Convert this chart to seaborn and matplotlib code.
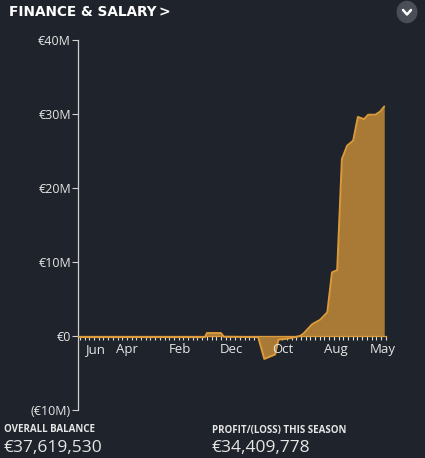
import numpy as np
import pandas as pd
import seaborn as sns
import matplotlib.pyplot as plt
from matplotlib.patches import Circle
from matplotlib.lines import Line2D


# balance over the season (week index, millions of euros)
weeks = [0, 26.6, 27.0, 30.0, 30.6, 37.9, 39.2, 41.5, 42.2, 44.7, 46.8, 47.5,
         49.4, 51.1, 52.6, 53.6, 54.7, 55.7, 56.8, 58.1, 59.1, 60.4, 61.3,
         62.8, 63.8, 64.7]
balance = [-0.15, -0.15, 0.4, 0.4, -0.1, -0.15, -3.1, -2.5, -0.5, -0.3, 0.0, 0.3,
           1.6, 2.2, 3.2, 8.6, 8.9, 23.9, 25.7, 26.4, 29.6, 29.3, 29.9,
           29.9, 30.3, 31.0]
month_labels = ['Jun', 'Apr', 'Feb', 'Dec', 'Oct', 'Aug', 'May']
month_pos = [3.2, 10.0, 21.3, 32.3, 43.2, 54.5, 64.3]
y_ticks = [-10, 0, 10, 20, 30, 40]
y_labels = ['(€10M)', '€0', '€10M', '€20M', '€30M', '€40M']

df = pd.DataFrame({'week': weeks, 'balance': balance})

bg = '#1f232b'
line_col = '#dc9b3b'
fill_col = '#a87a36'
txt = '#e6e6e6'

sns.set_style('dark')
plt.rcParams['font.family'] = ['Open Sans', 'DejaVu Sans']

fig = plt.figure(figsize=(4.25, 4.58), dpi=100, facecolor=bg)
ax = fig.add_axes([0.1835, 0.1048, 0.725, 0.808])
ax.set_facecolor(bg)

ax.fill_between(df['week'], df['balance'], 0, color=fill_col, lw=0)
sns.lineplot(data=df, x='week', y='balance', ax=ax, color=line_col, lw=1.4)

ax.set_xlim(-0.4, 65.1)
ax.set_ylim(-10, 40)
ax.set_xlabel('')
ax.set_ylabel('')

ax.set_yticks(y_ticks)
ax.set_yticklabels(y_labels, color=txt, fontsize=9)
ax.tick_params(axis='y', length=4, width=0.8, color='#cfcfcf', pad=1, left=True)

# week ticks along the zero line, month names under them
ax.set_xticks(np.arange(0, 66))
ax.set_xticklabels([])
ax.tick_params(axis='x', length=3, width=0.8, color='#dcdcdc', bottom=True)
for name, pos in zip(month_labels, month_pos):
    ax.annotate(name, (pos, 0), xytext=(0, -5), textcoords='offset points',
                ha='center', va='top', color=txt, fontsize=9.5)

for s in ['top', 'right']:
    ax.spines[s].set_visible(False)
ax.spines['left'].set_color('#cfcfcf')
ax.spines['left'].set_linewidth(0.9)
ax.spines['bottom'].set_position(('data', 0))
ax.spines['bottom'].set_color(line_col)
ax.spines['bottom'].set_linewidth(0.9)
ax.grid(False)

# header
fig.text(9 / 425, 1 - 12 / 458, 'FINANCE & SALARY', color='white', fontsize=9.8,
         fontweight='bold', va='center', ha='left', family='DejaVu Sans')
fig.text(158 / 425, 1 - 12 / 458, '>', color='white', fontsize=10,
         fontweight='bold', va='center', ha='left', family='DejaVu Sans')
cx, cy = 407 / 425, 1 - 12 / 458
fig.patches.append(Circle((cx, cy), 0.023, transform=fig.transFigure,
                          color='#4a4e56', zorder=1))
fig.lines.append(Line2D([cx - 4 / 425, cx, cx + 4 / 425],
                        [cy + 2 / 458, cy - 2.5 / 458, cy + 2 / 458],
                        transform=fig.transFigure, color='white', lw=1.8, zorder=2))

# footer
fig.text(4 / 425, 1 - 430 / 458, 'OVERALL BALANCE', color=txt, fontsize=7,
         fontweight='bold', va='center')
fig.text(4 / 425, 1 - 448 / 458, '€37,619,530', color=txt, fontsize=12.5, va='center')
fig.text(212 / 425, 1 - 430 / 458, 'PROFIT/(LOSS) THIS SEASON', color=txt, fontsize=7,
         fontweight='bold', va='center')
fig.text(212 / 425, 1 - 448 / 458, '€34,409,778', color=txt, fontsize=12.5, va='center')

fig.savefig('out.png', dpi=100, facecolor=bg)
